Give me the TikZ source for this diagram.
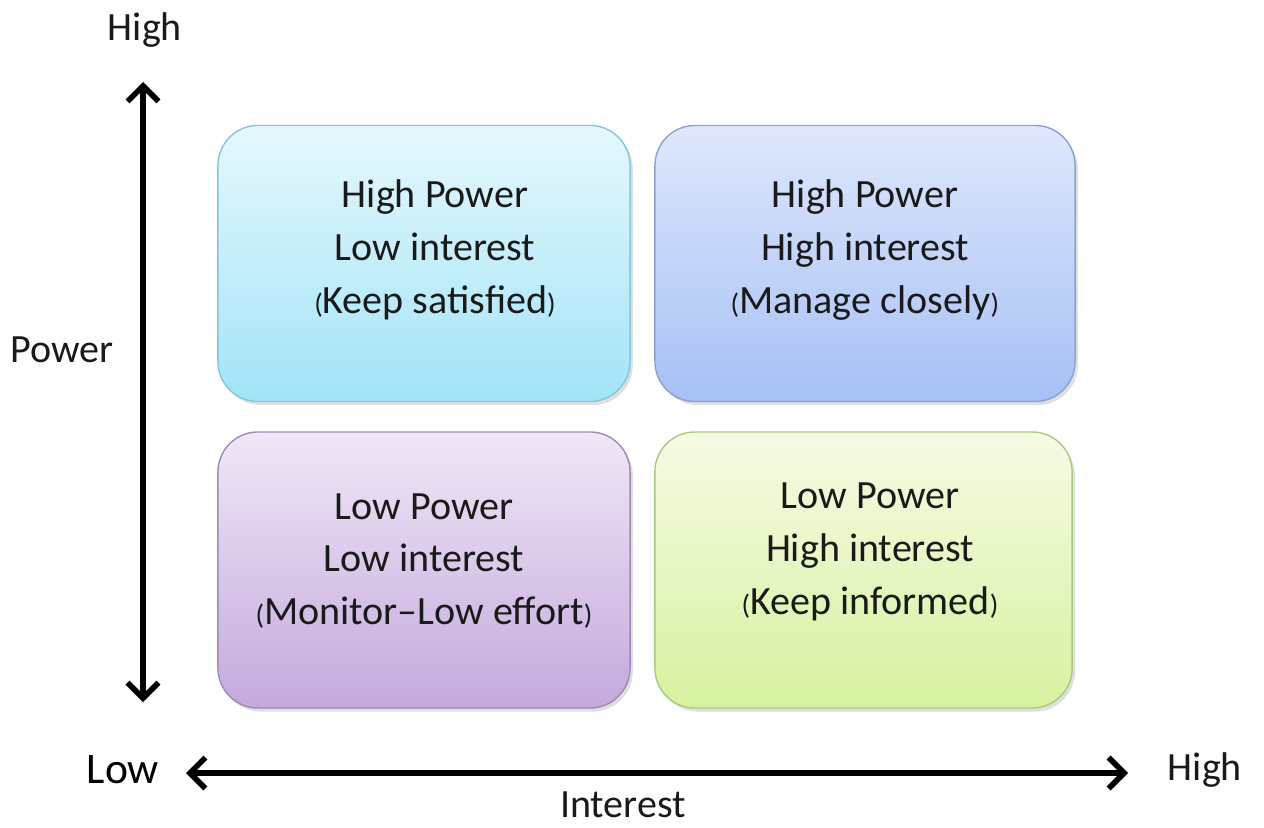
\documentclass[tikz,border=0pt]{standalone}
\usepackage{fontspec}
\setmainfont{Carlito}
\usetikzlibrary{arrows.meta,shadows}

\definecolor{inktext}{HTML}{1A1A1A}
\definecolor{cyantop}{HTML}{E6F8FD}
\definecolor{cyanbot}{HTML}{A2E4F8}
\definecolor{cyanrim}{HTML}{86C6DA}
\definecolor{bluetop}{HTML}{DFE8FC}
\definecolor{bluebot}{HTML}{A6C0F5}
\definecolor{bluerim}{HTML}{8AA2D2}
\definecolor{violtop}{HTML}{F0E7F7}
\definecolor{violbot}{HTML}{C4A9DC}
\definecolor{violrim}{HTML}{9E8AB6}
\definecolor{limetop}{HTML}{F6FBE4}
\definecolor{limebot}{HTML}{D6F2A0}
\definecolor{limerim}{HTML}{ABC883}

\tikzset{
  quadrant/.style={rounded corners=1cm, line width=1pt,
    minimum width=10.3cm, minimum height=6.9cm,
    drop shadow={shadow xshift=2pt, shadow yshift=-2.5pt, opacity=0.25}},
  quadtext/.style={align=center, text=inktext,
    font=\fontsize{28.5}{37.6}\selectfont},
  axislabel/.style={text=inktext, font=\fontsize{28.5}{34}\selectfont},
  axis/.style={line width=4pt,
    {Straight Barb[length=11pt,width=22pt]}-{Straight Barb[length=11pt,width=22pt]}}
}
\newcommand{\paren}[1]{{\fontsize{20}{20}\selectfont#1}}

\begin{document}
\begin{tikzpicture}[x=0.025cm,y=-0.025cm]

  \useasboundingbox (0,0) rectangle (1264,828);

  % quadrants
  \node[quadrant, draw=cyanrim, top color=cyantop, bottom color=cyanbot] (hplo) at (424,263.5) {};
  \node[quadrant, minimum width=10.5cm, draw=bluerim, top color=bluetop, bottom color=bluebot] (hphi) at (865,263.5) {};
  \node[quadrant, draw=violrim, top color=violtop, bottom color=violbot] (lplo) at (424,570) {};
  \node[quadrant, minimum width=10.43cm, draw=limerim, top color=limetop, bottom color=limebot] (lphi) at (863.5,570) {};

  \node[quadtext] (hplotext) at (435,250) {High Power\\Low interest\\\paren{(}Keep satisfied\paren{)}};
  \node[quadtext] (hphitext) at (865,250) {High Power\\High interest\\\paren{(}Manage closely\paren{)}};
  \node[quadtext] (lplotext) at (424,561) {Low Power\\Low interest\\\paren{(}Monitor--Low effort\paren{)}};
  \node[quadtext] (lphitext) at (870,552) {Low Power\\High interest\\\paren{(}Keep informed\paren{)}};

  % axes
  \coordinate (powertop) at (143,82);
  \coordinate (powerbot) at (143,702);
  \coordinate (intleft) at (186,773);
  \coordinate (intright) at (1128,773);
  \draw[axis] (powerbot) -- (powertop);
  \draw[axis] (intleft) -- (intright);

  \node[axislabel] (powerhigh) at (145,30) {High};
  \node[axislabel] (power) at (62,350) {Power};
  \node[axislabel, font=\fontsize{31}{34}\selectfont, text=black] (low) at (123,770) {Low};
  \node[axislabel] (interesthigh) at (1205,770) {High};
  \node[axislabel, inner sep=1pt] (interest) at (623,805) {Interest};

\end{tikzpicture}
\end{document}
